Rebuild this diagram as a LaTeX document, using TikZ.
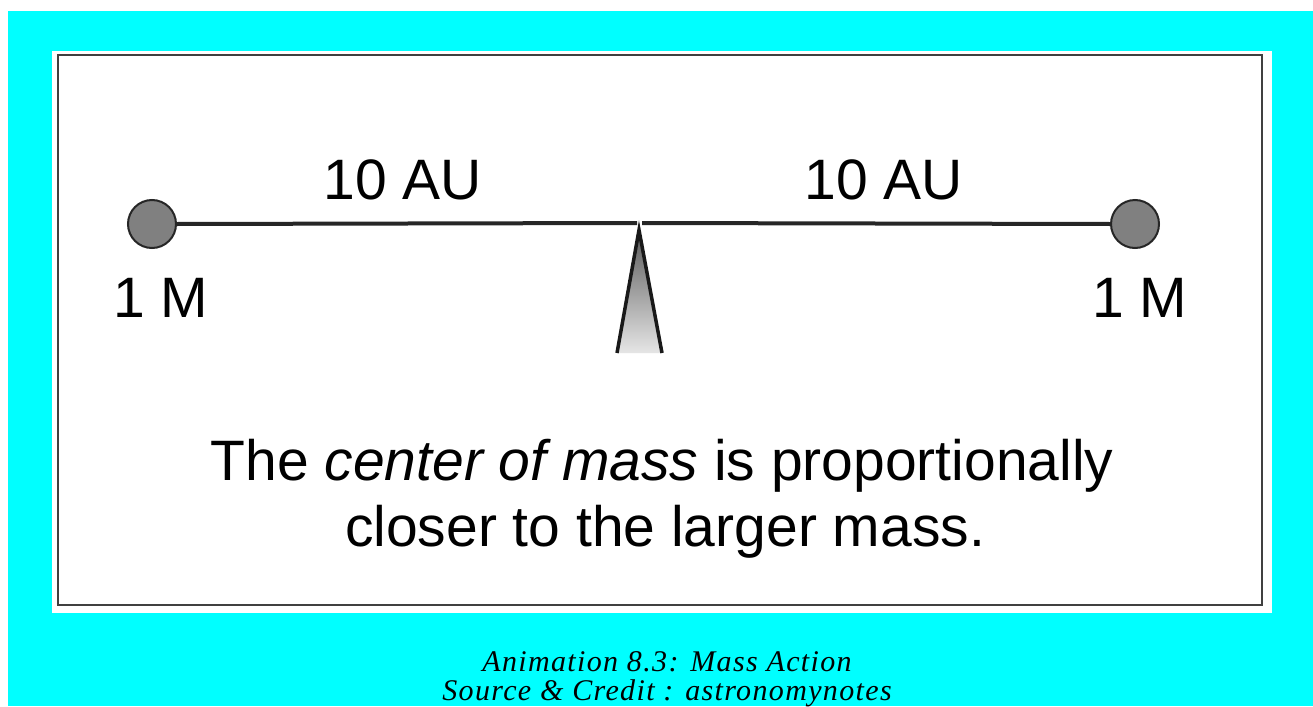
\documentclass[tikz,border=0pt]{standalone}
\usepackage{fontspec}
\setmainfont{Liberation Sans}
\newfontfamily\capfont[LetterSpace=4.5]{Liberation Serif}
\definecolor{aqua}{RGB}{0,255,255}
\begin{document}
\begin{tikzpicture}[x=1pt,y=-1pt,
  mass/.style={circle,draw=black!85,line width=2pt,fill=black!50,minimum size=48pt,inner sep=0pt},
  beam/.style={line width=4pt,black!85},
  lbl/.style={inner sep=0pt,anchor=base,font=\fontsize{57}{68}\selectfont},
  captxt/.style={inner sep=0pt,anchor=base,font=\capfont\itshape\fontsize{30}{32}\selectfont}]
\useasboundingbox (0,0) rectangle (1313,706);
\fill[white] (0,0) rectangle (1313,706);
\fill[aqua] (8,11) rectangle (1313,706);
\fill[white] (52,51) rectangle (1272,613);
\draw[black!75,line width=2.5pt] (58,55) rectangle (1262,605);
% masses
\node[mass] (m1) at (152,224) {};
\node[mass] (m2) at (1135,224) {};
\coordinate (gl) at (637,223);
\coordinate (gr) at (642,223);
\draw[beam] (m1.east) -- (gl);
\draw[beam] (gr) -- (m2.west);
% fulcrum
\coordinate (apex) at (639,230);
\coordinate (bl) at (617,353);
\coordinate (br) at (662,353);
\shade[top color=black!65,bottom color=black!10] (apex) -- (bl) -- (br) -- cycle;
\draw[line width=3.5pt,line join=miter,black!90] (bl) -- (apex) -- (br);
% labels
\node[lbl] (d1) at (403,199) {10 AU};
\node[lbl] (d2) at (884,199) {10 AU};
\node[lbl] (l1) at (161,317) {1 M};
\node[lbl] (l2) at (1140,317) {1 M};
\node[lbl] (t1) at (662,480) {The \textit{center of mass} is proportionally};
\node[lbl] (t2) at (665,546) {closer to the larger mass.};
\node[captxt] (c1) at (667,671) {Animation 8.3: Mass Action};
\node[captxt] (c2) at (667,700) {Source \& Credit : astronomynotes};
\end{tikzpicture}
\end{document}
